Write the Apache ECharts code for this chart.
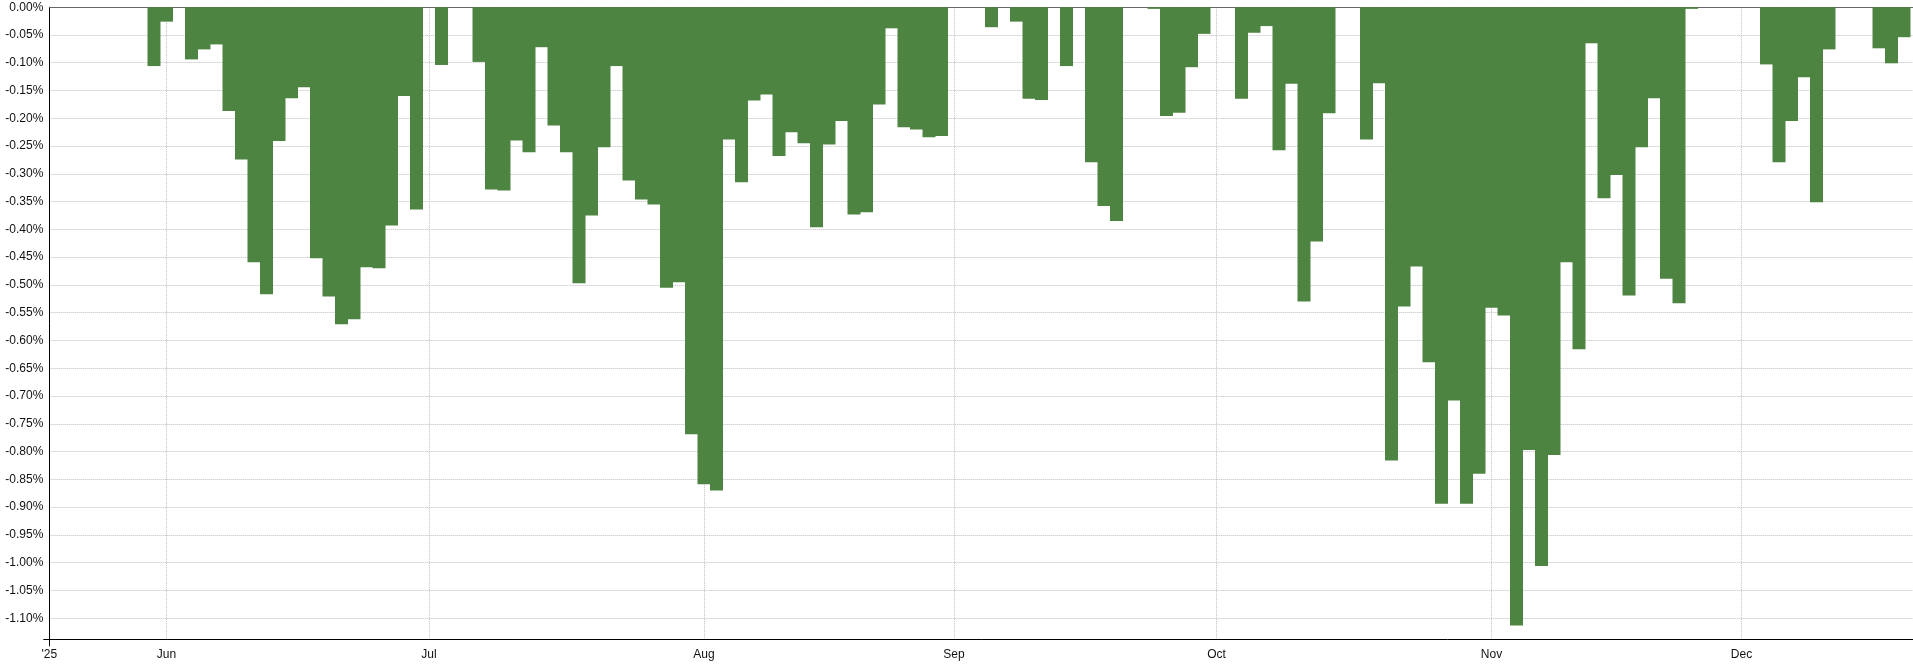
<!DOCTYPE html>
<html>
<head>
<meta charset="utf-8">
<script src="https://cdn.jsdelivr.net/npm/echarts@6/dist/echarts.min.js"></script>
<style>
html,body{margin:0;padding:0;background:#ffffff;}
#chart{width:1913px;height:666px;}
</style>
</head>
<body>
<div id="chart"></div>
<script>
// ---- data (drawdown, %) ----
const yearLabel = "'25";
const monthLabels = ['Jun', 'Jul', 'Aug', 'Sep', 'Oct', 'Nov', 'Dec'];
const mayTailValues = [-0.106];
const junValues = [-0.026, 0, -0.094, -0.076, -0.067, -0.187, -0.274, -0.459, -0.517, -0.241, -0.164, -0.144, -0.452, -0.521, -0.571, -0.562, -0.468, -0.470, -0.393, -0.160, -0.364];
const julValues = [0, -0.104, 0, 0, -0.0985, -0.328, -0.330, -0.240, -0.261, -0.072, -0.213, -0.261, -0.497, -0.375, -0.252, -0.106, -0.312, -0.346, -0.355, -0.505, -0.495, -0.769];
const augValues = [-0.859, -0.870, -0.238, -0.315, -0.168, -0.157, -0.268, -0.225, -0.245, -0.396, -0.247, -0.205, -0.373, -0.369, -0.175, -0.038, -0.216, -0.220, -0.234, -0.232];
const sepValues = [0, 0, 0, -0.036, 0, -0.026, -0.165, -0.167, 0, -0.106, 0, -0.279, -0.358, -0.385, 0, 0, -0.003, -0.196, -0.190, -0.108, -0.048];
const octValues = [0, 0, -0.165, -0.046, -0.034, -0.2575, -0.138, -0.530, -0.422, -0.191, 0, 0, -0.238, -0.137, -0.816, -0.539, -0.467, -0.639, -0.894, -0.708, -0.894, -0.840];
const novValues = [-0.541, -0.555, -1.113, -0.797, -1.006, -0.806, -0.459, -0.616, -0.065, -0.344, -0.302, -0.519, -0.252, -0.164, -0.489, -0.533, -0.003, 0, 0, 0];
const decValues = [0, 0, -0.103, -0.279, -0.205, -0.126, -0.351, -0.076, 0, 0, 0, -0.074, -0.101, -0.054];
const yTickValues = [0, -0.05, -0.10, -0.15, -0.20, -0.25, -0.30, -0.35, -0.40, -0.45, -0.50, -0.55, -0.60, -0.65, -0.70, -0.75, -0.80, -0.85, -0.90, -0.95, -1.00, -1.05, -1.10];

// ---- build bar data on a trading-day index ----
const monthSeries = [junValues, julValues, augValues, sepValues, octValues, novValues, decValues];
const barData = [];
mayTailValues.forEach((v, k) => barData.push([k - mayTailValues.length, v]));
const monthStarts = [];
let idx = 0;
monthSeries.forEach(arr => {
  monthStarts.push(idx);
  arr.forEach(v => { barData.push([idx, v]); idx++; });
});

const X_MIN = -9.376, X_MAX = 139.72, Y_MIN = -1.138, Y_MAX = 0;
const labelMap = {};
monthStarts.forEach((s, i) => { labelMap[s] = monthLabels[i]; });

const FONT = 'Liberation Sans, Arial, sans-serif';
const gridLine = { show: true, lineStyle: { color: '#bdbdbd', width: 1, type: [1, 1] } };

const chart = echarts.init(document.getElementById('chart'), null, { renderer: 'canvas' });
chart.setOption({
  animation: false,
  backgroundColor: '#ffffff',
  grid: { left: 49.3, right: 0, top: 7.2, bottom: 26.7, containLabel: false },
  xAxis: [
    {
      type: 'value', min: X_MIN, max: X_MAX, position: 'bottom',
      axisLine: { show: true, onZero: false, lineStyle: { color: '#000', width: 1 } },
      axisTick: { show: false, customValues: monthStarts },
      splitLine: gridLine,
      axisLabel: {
        show: true, customValues: [X_MIN].concat(monthStarts), margin: 9,
        color: '#111', fontFamily: FONT, fontSize: 12,
        formatter: v => (Math.abs(v - X_MIN) < 1e-6 ? yearLabel : (labelMap[Math.round(v)] || ''))
      }
    },
    {
      type: 'value', min: X_MIN, max: X_MAX, position: 'top',
      axisLine: { show: true, onZero: false, lineStyle: { color: '#666', width: 1 } },
      axisTick: { show: false }, axisLabel: { show: false }, splitLine: { show: false }
    },
    {
      type: 'value', min: X_MIN, max: X_MAX, position: 'bottom',
      axisLine: { show: false, onZero: false },
      axisTick: { show: true, customValues: [X_MIN], length: 7, lineStyle: { color: '#000', width: 1 } },
      axisLabel: { show: false }, splitLine: { show: false }
    }
  ],
  yAxis: [
    {
      type: 'value', min: Y_MIN, max: Y_MAX, position: 'left',
      axisLine: { show: true, onZero: false, lineStyle: { color: '#000', width: 1 } },
      axisTick: { show: false, customValues: yTickValues },
      splitLine: gridLine,
      axisLabel: {
        show: true, customValues: yTickValues, margin: 6,
        color: '#111', fontFamily: FONT, fontSize: 12,
        formatter: v => v.toFixed(2) + '%'
      }
    },
    {
      type: 'value', min: Y_MIN, max: Y_MAX, position: 'left',
      axisLine: { show: false, onZero: false },
      axisTick: { show: true, customValues: [Y_MIN], length: 6, lineStyle: { color: '#000', width: 1 } },
      axisLabel: { show: false }, splitLine: { show: false }
    }
  ],
  series: [
    {
      type: 'bar', xAxisIndex: 0, yAxisIndex: 0,
      data: barData, barWidth: 13,
      itemStyle: { color: '#4e8442' },
      silent: true
    }
  ]
});
</script>
</body>
</html>
